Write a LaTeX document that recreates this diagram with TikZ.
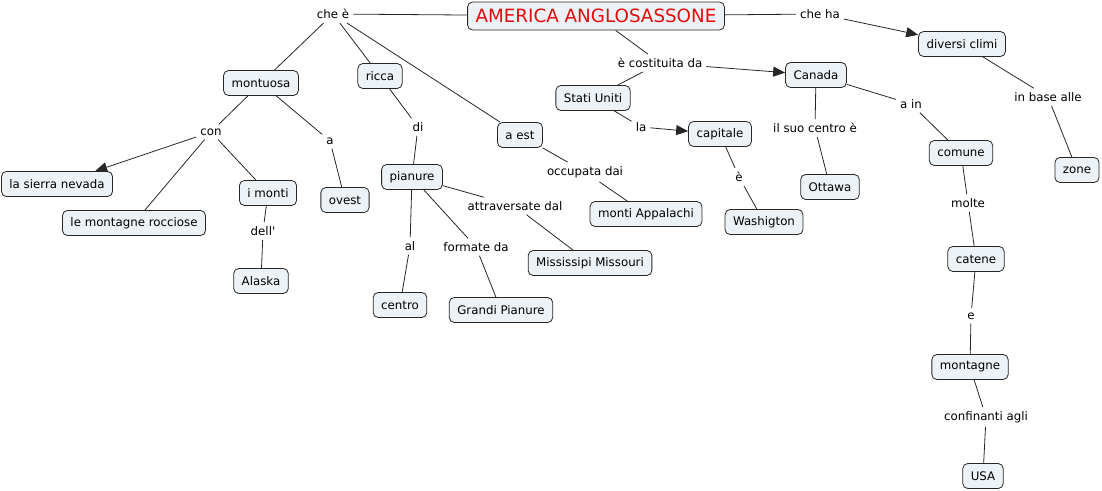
\documentclass[tikz,border=0pt]{standalone}
\usepackage{fontspec}
\newfontfamily\cmapfont{DejaVu Sans}
\usetikzlibrary{arrows.meta}
\definecolor{cfill}{RGB}{236,242,245}
\definecolor{ctitle}{RGB}{228,10,10}

\begin{document}
\begin{tikzpicture}[
    x=1pt, y=-1pt,
    font=\cmapfont\fontsize{11.8}{13}\selectfont,
    concept/.style={draw=black!85, fill=cfill, rounded corners=5pt,
                    inner xsep=8pt, minimum height=25pt, line width=0.8pt},
    title/.style={concept, text=ctitle, minimum height=28pt,
                  font=\cmapfont\fontsize{18.3}{20}\selectfont},
    link/.style={inner sep=4pt},
    ln/.style={line width=0.8pt, black!85},
    arr/.style={ln, -{Triangle[length=12pt, width=10pt]}},
  ]
  \useasboundingbox (0,0) rectangle (1102,490);

  \node[title]   (amer)   at (596,16)  {AMERICA ANGLOSASSONE};

  % che e' ...
  \node[link]    (chee)   at (333,14)  {che è};
  \node[concept] (mont)   at (261,83)  {montuosa};
  \node[concept] (ricca)  at (380,76)  {ricca};
  \node[concept] (aest)   at (520,135) {a est};
  \node[link]    (con)    at (211,132) {con};
  \node[link]    (aw)     at (330,141) {a};
  \node[concept] (sierra) at (57,184)  {la sierra nevada};
  \node[concept] (rocc)   at (134,223) {le montagne rocciose};
  \node[concept] (imonti) at (268,193) {i monti};
  \node[concept] (ovest)  at (345,200) {ovest};
  \node[link]    (dell)   at (263,231) {dell'};
  \node[concept] (alaska) at (261,281) {Alaska};
  \node[link]    (di)     at (418,127) {di};
  \node[concept] (pian)   at (412,177) {pianure};
  \node[link]    (al)     at (410,246) {al};
  \node[link]    (form)   at (476,247) {formate da};
  \node[link]    (attr)   at (515,206) {attraversate dal};
  \node[concept] (centro) at (400,305) {centro};
  \node[concept] (grandi) at (501,310) {Grandi Pianure};
  \node[concept] (missi)  at (590,263) {Mississipi Missouri};
  \node[link]    (occ)    at (585,172) {occupata dai};
  \node[concept] (appal)  at (646,214) {monti Appalachi};

  % e' costituita da ...
  \node[link]    (cost)   at (660,63)  {è costituita da};
  \node[concept] (stati)  at (593,98)  {Stati Uniti};
  \node[concept] (canada) at (816,75)  {Canada};
  \node[link]    (la)     at (641,127) {la};
  \node[concept] (cap)    at (720,134) {capitale};
  \node[link]    (ecap)   at (739,177) {è};
  \node[concept] (wash)   at (764,222) {Washigton};
  \node[link]    (suoc)   at (815,128) {il suo centro è};
  \node[concept] (ottawa) at (830,187) {Ottawa};
  \node[link]    (ain)    at (911,104) {a in};
  \node[concept] (comune) at (961,153) {comune};
  \node[link]    (molte)  at (968,203) {molte};
  \node[concept] (catene) at (976,259) {catene};
  \node[link]    (econ)   at (971,316) {e};
  \node[concept] (mtgne)  at (970,367) {montagne};
  \node[link]    (conf)   at (986,417) {confinanti agli};
  \node[concept] (usa)    at (983,476) {USA};

  % che ha ...
  \node[link]    (cheha)  at (820,14)  {che ha};
  \node[concept] (climi)  at (962,44)  {diversi climi};
  \node[link]    (base)   at (1048,97) {in base alle};
  \node[concept] (zone)   at (1077,170) {zone};

  \draw[ln] (amer) -- (chee);
  \draw[ln] (chee) -- (mont);
  \draw[ln] (chee) -- (ricca);
  \draw[ln] (chee) -- (aest);
  \draw[ln] (mont) -- (con);
  \draw[arr] (con) -- (sierra);
  \draw[ln] (con) -- (rocc);
  \draw[ln] (con) -- (imonti);
  \draw[ln] (mont) -- (aw);
  \draw[ln] (aw) -- (ovest);
  \draw[ln] (imonti) -- (dell);
  \draw[ln] (dell) -- (alaska);
  \draw[ln] (ricca) -- (di);
  \draw[ln] (di) -- (pian);
  \draw[ln] (pian) -- (al);
  \draw[ln] (al) -- (centro);
  \draw[ln] (pian) -- (form);
  \draw[ln] (form) -- (grandi);
  \draw[ln] (pian) -- (attr);
  \draw[ln] (attr) -- (missi);
  \draw[ln] (aest) -- (occ);
  \draw[ln] (occ) -- (appal);

  \draw[ln] (amer) -- (cost);
  \draw[arr] (cost) -- (canada);
  \draw[ln] (cost) -- (stati);
  \draw[ln] (stati) -- (la);
  \draw[arr] (la) -- (cap);
  \draw[ln] (cap) -- (ecap);
  \draw[ln] (ecap) -- (wash);
  \draw[ln] (canada) -- (suoc);
  \draw[ln] (suoc) -- (ottawa);
  \draw[ln] (canada) -- (ain);
  \draw[ln] (ain) -- (comune);
  \draw[ln] (comune) -- (molte);
  \draw[ln] (molte) -- (catene);
  \draw[ln] (catene) -- (econ);
  \draw[ln] (econ) -- (mtgne);
  \draw[ln] (mtgne) -- (conf);
  \draw[ln] (conf) -- (usa);

  \draw[ln] (amer) -- (cheha);
  \draw[arr] (cheha) -- (climi);
  \draw[ln] (climi) -- (base);
  \draw[ln] (base) -- (zone);
\end{tikzpicture}
\end{document}
